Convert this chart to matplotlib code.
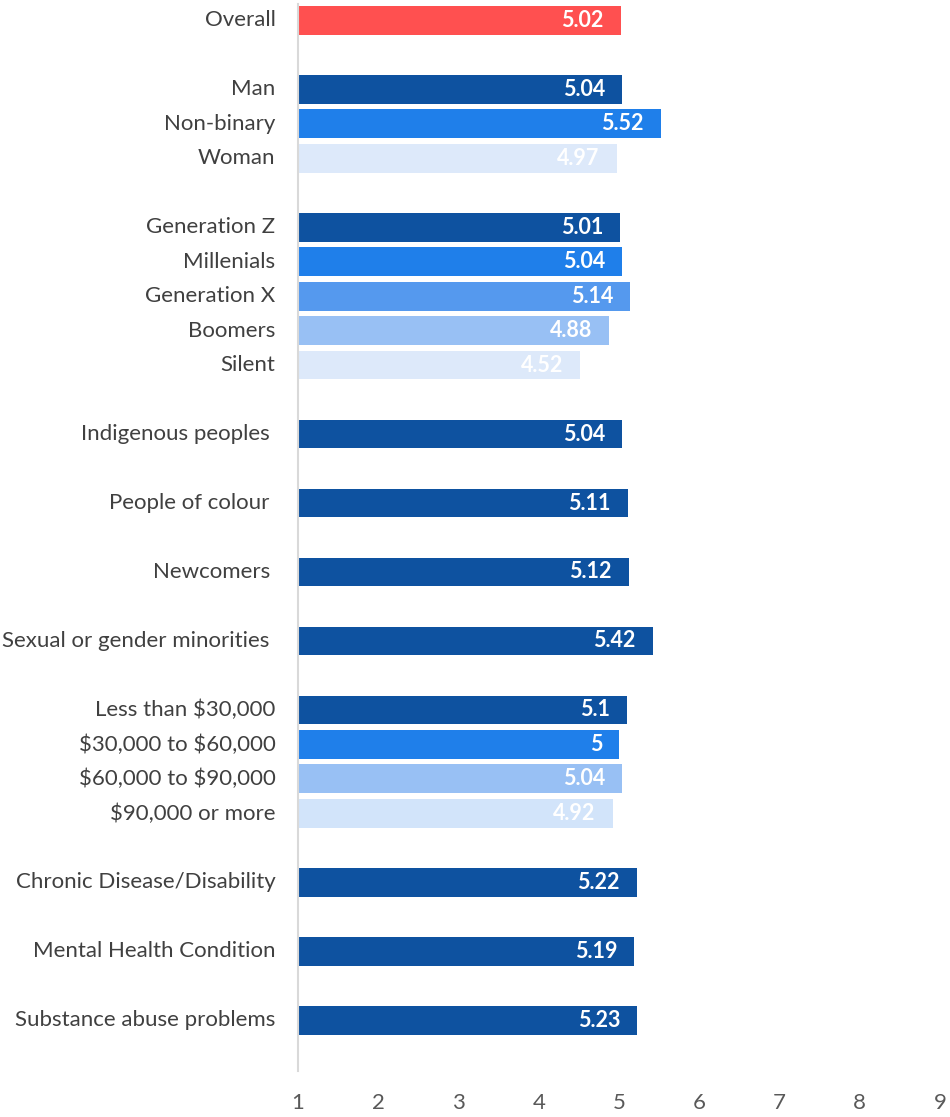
import matplotlib.pyplot as plt

plt.rcParams['font.family'] = ['Lato', 'DejaVu Sans']
plt.rcParams['text.parse_math'] = False

# survey groups, top to bottom (None = spacer row)
labels = ['Overall', None,
          'Man', 'Non-binary', 'Woman', None,
          'Generation Z', 'Millenials', 'Generation X', 'Boomers', 'Silent', None,
          'Indigenous peoples ', None,
          'People of colour ', None,
          'Newcomers ', None,
          'Sexual or gender minorities ', None,
          'Less than $30,000', '$30,000 to $60,000', '$60,000 to $90,000', '$90,000 or more', None,
          'Chronic Disease/Disability', None,
          'Mental Health Condition', None,
          'Substance abuse problems']
values = [5.02, None,
          5.04, 5.52, 4.97, None,
          5.01, 5.04, 5.14, 4.88, 4.52, None,
          5.04, None,
          5.11, None,
          5.12, None,
          5.42, None,
          5.1, 5.0, 5.04, 4.92, None,
          5.22, None,
          5.19, None,
          5.23]
value_text = ['5.02', None,
              '5.04', '5.52', '4.97', None,
              '5.01', '5.04', '5.14', '4.88', '4.52', None,
              '5.04', None, '5.11', None, '5.12', None, '5.42', None,
              '5.1', '5', '5.04', '4.92', None,
              '5.22', None, '5.19', None, '5.23']

RED = '#FF5050'
DARK = '#0E52A0'
MID = '#1F7FEA'
LIGHT1 = '#5599EE'
LIGHT2 = '#98C0F4'
PALE = '#DDE9FA'
PALE2 = '#D2E4FA'
colors = [RED, None,
          DARK, MID, PALE, None,
          DARK, MID, LIGHT1, LIGHT2, PALE, None,
          DARK, None, DARK, None, DARK, None, DARK, None,
          DARK, MID, LIGHT2, PALE2, None,
          DARK, None, DARK, None, DARK]

fig = plt.figure(figsize=(9.5, 11.17), dpi=100)
ax = fig.add_axes([298 / 950, 1 - 1070.5 / 1117, 642 / 950, (1070.5 - 4.5) / 1117])

for i, (lab, v, t, c) in enumerate(zip(labels, values, value_text, colors)):
    if lab is None:
        continue
    ax.barh(i, v - 1, left=1, height=0.84, color=c)
    ax.text(v - 0.21, i, t, ha='right', va='center', color='white',
            fontsize=15.5, fontweight='bold')
    ax.text(0.72, i, lab, ha='right', va='center', color='#404040',
            fontsize=16)

ax.set_xlim(1, 9)
ax.set_ylim(30.45, -0.45)
ax.set_xticks(range(1, 10))
ax.set_yticks([])
ax.tick_params(axis='x', length=0, pad=16, labelsize=16, labelcolor='#595959')
for s in ['top', 'right', 'bottom']:
    ax.spines[s].set_visible(False)
ax.spines['left'].set_color('#D9D9D9')
ax.spines['left'].set_linewidth(1.5)

fig.savefig('out.png', dpi=100)
